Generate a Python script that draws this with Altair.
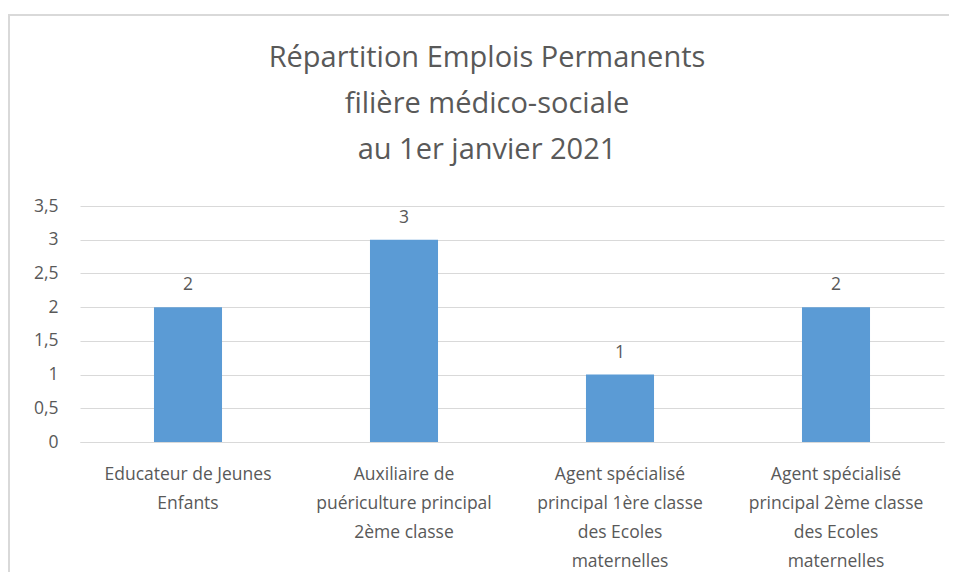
import altair as alt
import pandas as pd

categories = [
    "Educateur de Jeunes\nEnfants",
    "Auxiliaire de\npuériculture principal\n2ème classe",
    "Agent spécialisé\nprincipal 1ère classe\ndes Ecoles\nmaternelles",
    "Agent spécialisé\nprincipal 2ème classe\ndes Ecoles\nmaternelles",
]
values = [2, 3, 1, 2]
y_ticks = [0, 0.5, 1, 1.5, 2, 2.5, 3, 3.5]
title_lines = [
    "Répartition Emplois Permanents",
    "filière médico-sociale",
    "au 1er janvier 2021",
]

df = pd.DataFrame({"cat": categories, "val": values})

FONT = "Open Sans"
GREY = "#595959"

base = alt.Chart(df)

frame = base.mark_rect(fill=None, stroke="#d9d9d9", strokeWidth=2).encode(
    x=alt.value(-71), x2=alt.value(887), y=alt.value(-191), y2=alt.value(384)
).transform_filter("datum.val == 3")

xenc = alt.X(
    "cat:N",
    sort=categories,
    scale=alt.Scale(paddingInner=0.685, paddingOuter=0.3425),
    axis=alt.Axis(
        title=None,
        labelExpr="split(datum.label, '\\n')",
        labelAngle=0,
        labelFont=FONT,
        labelFontSize=17.5,
        labelColor=GREY,
        labelLineHeight=29,
        labelPadding=23,
        labelBaseline="top",
        ticks=False,
        domainColor="#d9d9d9",
        domainWidth=1,
        labelLimit=300,
        grid=False,
    ),
)

yenc = alt.Y(
    "val:Q",
    scale=alt.Scale(domain=[0, 3.5], nice=False),
    axis=alt.Axis(
        title=None,
        values=y_ticks,
        labelExpr="replace(format(datum.value, ''), '.', ',')",
        labelFont=FONT,
        labelFontSize=17.5,
        labelColor=GREY,
        labelPadding=22,
        ticks=False,
        domain=False,
        gridColor="#d9d9d9",
        gridWidth=1,
    ),
)

bars = base.mark_bar(color="#5b9bd5").encode(x=xenc, y=yenc)

labels = base.mark_text(
    font=FONT, fontSize=17.5, color=GREY, baseline="alphabetic", dy=-17
).encode(x=xenc, y=yenc, text="val:Q")

chart = (
    alt.layer(frame, bars, labels)
    .properties(
        width=864,
        height=236,
        background="white",
        padding={"left": 72, "top": 198, "right": 5, "bottom": 130},
        autosize=alt.AutoSizeParams(type="none"),
        title=alt.TitleParams(
            text=title_lines,
            font=FONT,
            fontSize=29,
            fontWeight="normal",
            color=GREY,
            lineHeight=46,
            anchor="middle",
            dx=-25,
            offset=-151,
        ),
    )
    .configure_view(stroke=None, strokeOpacity=0)
)

chart.save("out.html", embed_options={"renderer": "svg", "actions": False})
